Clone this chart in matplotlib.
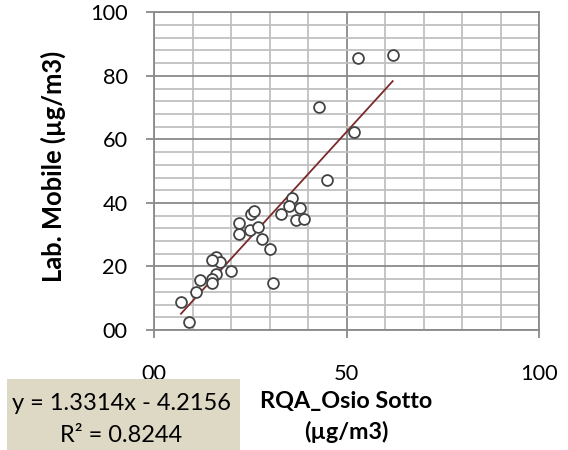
import matplotlib
matplotlib.use("Agg")
import matplotlib.pyplot as plt
from matplotlib.patches import Rectangle
from matplotlib.ticker import MultipleLocator, FuncFormatter
import numpy as np

plt.rcParams['font.family'] = ['Lato', 'DejaVu Sans']

# Data
osio_sotto = [52.9, 62.0, 42.9, 52.0, 45.0, 35.9, 35.1, 38.0, 33.1, 37.0, 39.0,
              25.2, 26.1, 22.1, 22.1, 25.0, 27.1, 28.1, 30.0, 31.0, 20.0, 16.1,
              17.1, 15.1, 16.1, 15.1, 15.1, 12.0, 11.0, 7.0, 9.1]
lab_mobile = [85.5, 86.6, 70.2, 62.2, 47.2, 41.7, 39.0, 38.4, 36.6, 34.7, 34.9,
              36.4, 37.5, 33.7, 30.1, 31.6, 32.5, 28.8, 25.4, 14.7, 18.6, 23.1,
              21.5, 22.1, 17.5, 16.2, 14.7, 15.8, 12.0, 8.8, 2.6]
slope = 1.3314
intercept = -4.2156
r2 = 0.8244
x_ticks = [0, 50, 100]
y_ticks = [0, 20, 40, 60, 80, 100]

W, H = 568, 450
fig = plt.figure(figsize=(W / 100, H / 100), dpi=100)
ax = fig.add_axes([154 / W, 1 - 330 / H, (539 - 154) / W, (330 - 12.3) / H])

major_c = '#8a8a8a'
minor_c = '#c0c0c0'

ax.set_xlim(0, 100)
ax.set_ylim(0, 100)
ax.xaxis.set_major_locator(MultipleLocator(50))
ax.xaxis.set_minor_locator(MultipleLocator(10))
ax.yaxis.set_major_locator(MultipleLocator(20))
ax.yaxis.set_minor_locator(MultipleLocator(4))
ax.grid(which='minor', color=minor_c, lw=1.3, zorder=0)
ax.grid(which='major', color=major_c, lw=1.3, zorder=0.5)
ax.set_axisbelow(True)
for s in ax.spines.values():
    s.set_color(major_c)
    s.set_linewidth(1.3)
ax.tick_params(which='minor', length=0)
ax.tick_params(which='major', direction='out', length=6, width=1.3, color=major_c,
               labelsize=15, labelcolor='black')
ax.tick_params(axis='y', pad=13)
ax.tick_params(axis='x', pad=18.5)
ax.set_xticks(x_ticks)
ax.set_yticks(y_ticks)
fmt = FuncFormatter(lambda v, p: f"{int(v):02d}")
ax.xaxis.set_major_formatter(fmt)
ax.yaxis.set_major_formatter(fmt)

# trendline
xs = np.array([min(osio_sotto), max(osio_sotto)])
ax.plot(xs, slope * xs + intercept, color='#7b2a2a', lw=1.3, zorder=3)

ax.plot(osio_sotto, lab_mobile, 'o', ms=7.8, mfc='white', mec='#444444', mew=1.3,
        zorder=4, clip_on=False)

ylab = ax.set_ylabel('Lab. Mobile (µg/m3)', fontsize=15, fontweight='bold')
ax.yaxis.set_label_coords((66 - 154) / 385, (330 - 166) / 318)
xlab = ax.set_xlabel('RQA_Osio Sotto\n(µg/m3)', fontsize=15, fontweight='bold',
                     linespacing=1.5)
ax.xaxis.set_label_coords(0.5, (330 - 417) / 318)
xlab.set_va('center')

# equation box
fig.patches.append(Rectangle((6.5 / W, 0), (240 - 6.5) / W, (450 - 379) / H,
                             transform=fig.transFigure, facecolor='#ddd9c4',
                             edgecolor='none', zorder=5))
eq1 = fig.text(121 / W, 1 - 403 / H, f"y = {slope}x - {abs(intercept)}", fontsize=15,
               ha='center', va='center', zorder=6)
eq2 = fig.text(121 / W, 1 - 435 / H, f"R² = {r2}", fontsize=15,
               ha='center', va='center', zorder=6)

# size text to match measured pixel extents of the reference
fig.canvas.draw()
ytl = [t for t in ax.get_yticklabels() if t.get_text() == '100'][0]
tick_fs = 15 * 38 / ytl.get_window_extent().width
ax.tick_params(which='major', labelsize=tick_fs)
ylab.set_fontsize(15 * 232 / ylab.get_window_extent().height)
fig.canvas.draw()
xw = xlab.get_window_extent().width
xlab.set_fontsize(15 * 173 / xw)
eq_fs = 15 * 219 / eq1.get_window_extent().width
eq1.set_fontsize(eq_fs)
eq2.set_fontsize(eq_fs)

fig.savefig('out.png', dpi=100)
